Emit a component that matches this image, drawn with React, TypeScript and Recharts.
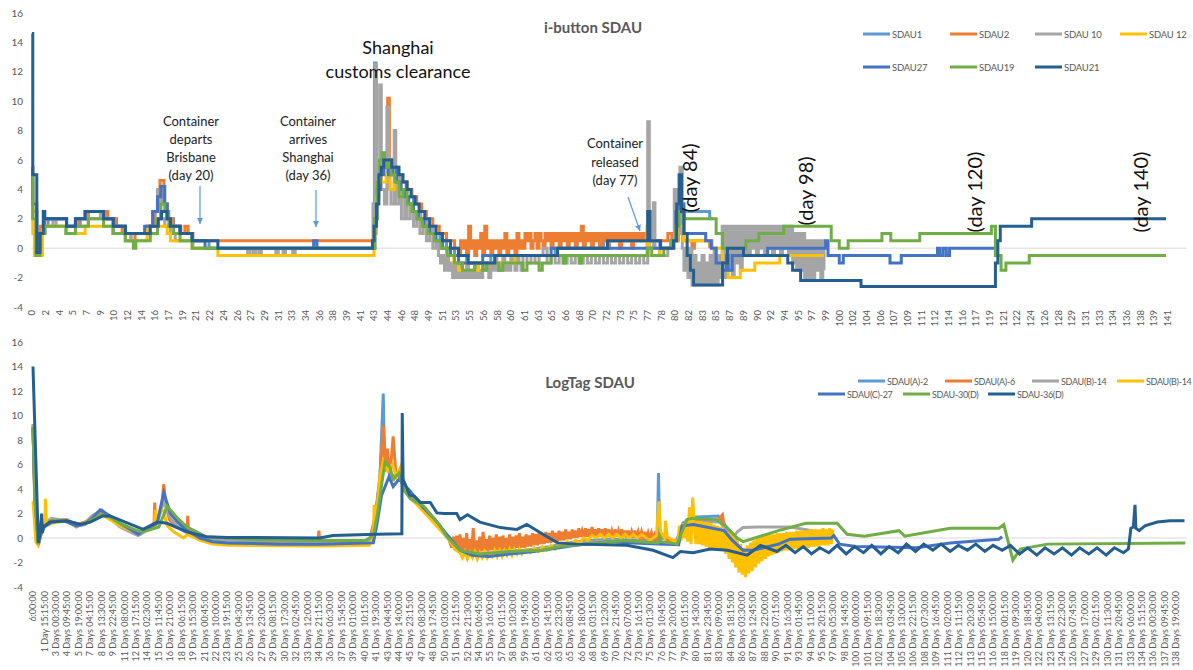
import React from 'react';
import { LineChart, Line, XAxis, YAxis, ReferenceLine } from 'recharts';

type Pt = [number, number];

// ---------------- TOP CHART (i-button SDAU) : [day, value] ----------------
const TOP_SDAU1: Pt[] = [[0,5.0],[0.1,2.5],[0.6,0],[1.0,1.0],[1.6,1.5],[2.0,2.0],[4.3,1.5],[6.0,2.0],[7.0,2.5],[9.4,2.0],[10.5,1.5],[11.6,1.0],[14.3,1.5],[15.3,2.5],[15.8,4.0],[16.3,3.0],[16.8,2.0],[17.6,1.5],[18.4,1.0],[19.9,0.5],[22.0,0],[42.2,0],[42.4,3.0],[42.55,12.6],[42.75,4.0],[43.2,5.5],[43.6,6.0],[44.2,5.5],[45.0,5.0],[45.8,4.5],[46.5,3.5],[47.4,2.5],[48.3,2.0],[49.0,1.5],[49.8,1.0],[50.7,0.5],[51.5,0],[52.5,-0.5],[54.0,-1.0],[57.0,-0.5],[65.0,0],[71.0,0.5],[76.5,0.5],[78.0,0],[79.5,0.5],[80.3,3.0],[80.9,2.5],[84.2,2.0],[84.6,2.0]];

const TOP_SDAU2: Pt[] = [[0,4.5],[0.1,2.0],[0.5,0],[1.0,1.5],[1.6,2.0],[4.3,1.5],[5.8,2.0],[7.0,2.5],[9.4,2.0],[10.4,1.5],[11.2,1.0],[12.3,0.5],[12.8,1.0],[14.6,1.5],[15.2,2.5],[15.6,4.0],[15.9,4.6],[16.4,3.0],[16.8,2.0],[17.5,1.5],[18.5,1.0],[19.0,1.5],[19.4,1.0],[20.0,0.5],[42.3,0.5],[42.5,2.0],[42.8,5.0],[43.2,6.0],[43.6,5.5],[44.2,10.2],[44.4,6.0],[45.0,5.5],[45.5,5.0],[46.0,4.5],[46.6,4.0],[47.2,3.5],[47.8,3.0],[48.4,2.5],[49.0,2.0],[49.8,1.5],[50.6,1.0],[51.5,0.5],[52.5,0],
[53.0,-0.5],[53.25,0.5],[53.5,0],[53.75,0.5],[54.0,-0.5],[54.25,1.5],[54.5,0],[54.75,0.5],[55.0,-0.5],[55.25,0.5],[55.5,0],[55.75,1.0],[56.0,-0.5],[56.25,1.5],[56.5,0],[56.75,0.5],[57.0,-0.5],[57.25,0.5],[57.5,0],[57.75,0.5],[58.0,-0.5],[58.25,0.5],[58.5,0],[58.75,1.0],[59.0,-0.5],[59.25,0.5],[59.5,0],[59.75,0.5],[60.0,-0.5],[60.25,1.0],[60.5,0],[60.75,0.5],
[61.0,0],[61.25,1.0],[61.5,0.5],[61.75,1.0],[62.0,0],[62.25,0.5],[62.5,1.0],[62.75,0],[63.0,1.0],[63.25,0.5],[63.5,0],[63.75,1.0],[64.0,0.5],[64.25,1.0],[64.5,0],[64.75,1.0],[65.0,0.5],[65.25,1.0],[65.5,0],[65.75,1.0],[66.0,0.5],[66.25,1.0],[66.5,0],[66.75,1.0],[67.0,0.5],[67.25,1.0],[67.5,0],[67.75,1.0],[68.0,0.5],[68.25,1.5],[68.5,0],[68.75,1.0],[69.0,0.5],[69.25,1.0],[69.5,0],[69.75,1.0],[70.0,0.5],[70.25,1.0],[70.5,0],[70.75,1.0],[71.0,0.5],[71.25,1.0],[71.5,0],[71.75,1.0],[72.0,0.5],[72.25,1.0],[72.5,0.5],[72.75,1.0],[73.0,0],[73.25,1.0],[73.5,0.5],[73.75,1.0],[74.0,0.5],[74.25,1.0],[74.5,0],[74.75,1.0],[75.0,0.5],[75.25,1.0],[75.5,0.5],[75.75,1.0],[76.0,0.5],[76.25,1.0],[76.5,0.5],
[78.0,0.5],[79.0,1.0],[79.5,0.5],[80.0,1.5],[80.4,2.0],[80.9,0.5],[82.0,0],[82.3,0.5],[84.2,0]];

const TOP_SDAU10: Pt[] = [[0,5.5],[0.1,2.0],[0.5,-0.5],[1.0,1.0],[1.6,1.5],[2.6,2.0],[3.0,1.5],[4.3,1.0],[5.4,1.5],[7.0,2.0],[8.5,2.5],[9.0,2.0],[10.1,1.0],[11.6,0.5],[12.3,1.0],[14.3,1.5],[15.0,2.5],[15.6,4.0],[16.0,2.0],[16.5,1.5],[17.2,1.0],[17.8,0.5],[20.0,0],[26.8,-0.5],[27.1,0],[27.5,-0.5],[27.8,0],[28.2,-0.5],[28.5,0],[30.3,-0.5],[30.6,0],[31.2,-0.5],[31.5,0],[32.4,-0.5],[32.7,0],[42.2,0],[42.4,3.0],[42.6,12.5],[42.8,4.0],[43.2,11.1],[43.4,4.0],[43.8,3.0],[44.1,9.6],[44.3,4.0],[44.6,3.0],[45.0,8.0],[45.2,3.0],[45.6,5.0],[45.9,2.0],[46.3,4.0],[46.6,2.0],[47.0,3.0],[47.4,1.5],[47.8,2.5],[48.2,1.0],[48.6,2.0],[49.0,0.5],[49.4,1.5],[49.8,0],[50.2,0.5],
[50.5,-0.5],[50.75,-1.0],[51.0,-0.5],[51.25,-1.5],[51.5,-0.5],[51.75,-1.5],[52.0,-1.0],[52.25,-2.0],[52.5,-1.0],[52.75,-2.0],[53.0,-1.0],[53.25,-2.0],[53.5,-1.5],[53.75,-2.0],[54.0,-1.0],[54.25,-2.0],[54.5,-1.5],[54.75,-2.0],[55.0,-1.0],[55.25,-2.0],[55.5,-1.5],[55.75,-2.0],[56.0,-1.0],[56.25,-1.5],[56.5,-1.0],[56.75,-2.0],[57.0,-1.0],[57.25,-1.5],[57.5,-0.5],[57.75,-1.5],[58.0,-1.0],[58.25,-1.5],[58.5,-0.5],[58.75,-1.5],[59.0,-1.0],[59.25,-1.5],[59.5,-0.5],[59.75,-1.0],[60.0,-1.5],[60.25,-0.5],[60.5,-1.0],[60.75,-1.5],[61.0,-0.5],[61.5,-1.0],[62.0,-0.5],[62.5,-1.0],[63.0,-0.5],[63.5,0],[64.0,-1.0],[64.5,-0.5],[65.0,-1.0],[65.5,-0.5],[66.0,-1.0],[66.5,-0.5],[67.0,-1.0],[67.5,-0.5],[68.0,-1.0],[68.5,-0.5],[69.0,-1.0],[69.5,-0.5],[70.0,-1.0],[70.5,-0.5],[71.0,-1.0],[71.5,-0.5],[72.0,-1.0],[72.5,-0.5],[73.0,-1.0],[73.5,-0.5],[74.0,-1.0],[74.5,-0.5],[75.0,-1.0],[75.5,-0.5],[76.0,-1.0],
[76.5,8.6],[76.7,0],[77.2,3.1],[77.4,0],[78.0,-0.5],[79.0,0],[79.8,4.0],[80.1,1.0],[80.5,5.5],[80.8,0],
[81.0,-1.5],[81.25,0],[81.5,-2.0],[81.75,0],[82.0,-2.5],[82.25,-0.5],[82.5,-2.5],[82.75,-1.0],[83.0,-2.5],[83.25,-0.5],[83.5,-2.5],[83.75,-1.0],[84.0,-2.5],[84.25,-0.5],[84.5,-2.5],[84.75,0],[85.0,-2.5],[85.25,-0.5],[85.5,-2.0],
[85.75,1.5],[86.0,-2.0],[86.25,1.5],[86.5,-1.5],[86.75,1.5],[87.0,-2.0],[87.25,1.5],[87.5,-1.0],[87.75,1.5],[88.0,-1.5],[88.25,1.5],[88.5,-0.5],[88.75,1.5],[89.0,-0.5],[89.25,1.5],[89.5,0],[89.75,1.5],[90.0,-0.5],[90.25,1.5],[90.5,0],[90.75,1.5],[91.0,-0.5],[91.25,1.5],[91.5,0],[91.75,1.5],[92.0,-0.5],[92.25,1.5],[92.5,0],[92.75,1.5],[93.0,-0.5],[93.25,1.5],[93.5,0],[93.75,1.5],[94.0,-0.5],[94.25,1.5],[94.5,-1.0],[94.75,1.0],[95.0,-1.5],[95.25,1.0],[95.5,-1.5],[95.75,1.0],[96.0,-2.0],[96.25,0.5],[96.5,-2.0],[96.75,0.5],[97.0,-2.0],[97.25,0.5],[97.5,-1.5],[97.75,0.5],[98.0,-2.0],[98.25,0.5],[98.4,-1.5]];

const TOP_SDAU12: Pt[] = [[0,3.5],[0.1,1.0],[0.3,-0.5],[1.0,-0.5],[1.3,1.0],[1.6,1.5],[4.3,1.0],[6.6,1.5],[9.0,1.5],[10.0,1.0],[11.6,0.5],[14.3,1.5],[16.8,1.0],[17.2,0.5],[19.9,0],[23.1,-0.5],[42.2,-0.5],[42.5,1.0],[42.8,3.5],[43.1,4.5],[44.0,5.0],[44.5,4.0],[45.0,4.5],[45.5,4.0],[46.0,3.5],[46.6,3.0],[47.2,2.5],[47.8,2.0],[48.5,1.5],[49.2,1.0],[50.0,0.5],[50.8,0],[51.5,-0.5],[52.4,-1.0],[53.0,-1.5],[53.5,-1.0],[55.0,-1.5],[55.5,-1.0],[60.0,-0.5],[76.4,1.5],[76.6,-0.5],[78.0,0],[79.5,0.5],[80.2,1.5],[80.9,0.5],[84.5,0],[85.8,-1.0],[86.5,-2.0],[88.0,-1.5],[89.8,-1.0],[92.9,-0.5],[98.4,-0.5]];

const TOP_SDAU27: Pt[] = [[0,5.5],[0.1,3.0],[0.6,0],[1.0,1.0],[1.5,2.0],[4.3,1.5],[5.4,2.0],[6.6,2.5],[8.9,2.0],[10.1,1.5],[11.6,1.0],[14.0,1.5],[15.0,2.5],[15.6,3.5],[16.0,4.2],[16.5,3.0],[16.8,2.0],[17.2,1.5],[18.4,1.0],[19.9,0.5],[21.5,0],[35.0,0.5],[35.4,0],[42.3,0],[42.6,2.0],[42.9,4.0],[43.3,5.0],[43.7,5.5],[44.3,5.0],[44.8,5.5],[45.3,4.5],[45.8,4.0],[46.3,3.5],[46.8,3.0],[47.4,2.5],[48.0,2.0],[48.7,1.5],[49.4,1.0],[50.2,0.5],[51.0,0],[52.0,-0.5],[53.0,-1.0],[56.0,-0.5],[64.5,0],[79.4,0.5],[80.0,2.5],[80.5,3.0],[81.0,1.0],[83.7,0.5],[84.4,0],[85.0,-1.0],[85.8,-1.5],[86.3,-0.5],[86.5,-1.5],[87.0,-0.5],[91.4,0],[98.6,0.5],[98.9,-0.5],[100.3,-1.0],[100.8,-0.5],[106.6,-1.0],[108.0,-0.5],[112.5,0],[112.8,-0.5],[113.2,0],[113.6,-0.5],[114.0,0],[114.5,0],[119.7,0]];

const TOP_SDAU19: Pt[] = [[0,5.0],[0.1,2.0],[0.5,-0.5],[1.0,1.0],[1.6,1.5],[4.2,1.0],[5.4,1.5],[7.0,2.0],[8.9,1.5],[10.1,1.0],[11.6,0.5],[12.6,0],[12.9,0.5],[14.7,1.0],[15.6,2.0],[16.0,3.0],[16.5,2.5],[17.0,1.5],[17.6,1.0],[18.4,0.5],[19.9,0],[42.3,0],[42.6,2.0],[42.9,4.5],[43.2,6.0],[43.5,6.5],[43.8,5.5],[44.2,6.0],[44.6,5.0],[45.1,4.5],[45.6,3.5],[46.1,4.0],[46.6,3.0],[47.2,2.5],[47.8,2.0],[48.5,1.5],[49.2,1.0],[50.0,0.5],[50.8,0],[51.6,-0.5],[52.5,-1.0],[53.5,-1.5],[55.0,-1.0],[56.0,-1.5],[56.5,-1.0],[58.0,-1.5],[58.5,-1.0],[61.0,-1.5],[61.5,-1.0],[63.0,-1.5],[63.4,-1.0],[64.5,-0.5],[66.0,-1.0],[66.3,-0.5],[68.0,-1.0],[68.3,-0.5],[75.6,-0.5],[76.5,0],[77.0,-0.5],[78.5,0],[79.4,0.5],[80.0,1.5],[80.4,2.5],[81.0,2.0],[85.0,1.0],[85.8,0],[88.7,0.5],[90.3,1.0],[93.4,1.5],[99.3,0.5],[100.3,0],[101.4,0.5],[105.6,1.0],[106.7,0.5],[110.3,1.0],[119.2,1.5],[119.7,-0.5],[120.4,-1.5],[121.0,-1.0],[123.9,-0.5],[140.9,-0.5]];

const TOP_SDAU21: Pt[] = [[0,14.6],[0.1,5.0],[0.6,-0.3],[1.0,1.0],[1.4,2.5],[1.6,2.0],[4.3,1.5],[5.4,2.0],[6.6,2.5],[8.9,2.0],[10.1,1.5],[11.6,1.0],[14.7,1.5],[15.7,2.0],[16.1,2.5],[16.8,2.0],[17.2,1.5],[18.4,1.0],[19.9,0.5],[23.1,0],[42.3,0.5],[42.5,1.5],[42.8,3.0],[43.1,5.0],[43.4,5.5],[43.7,6.0],[44.7,5.5],[45.6,5.0],[46.1,4.5],[46.6,4.0],[47.1,3.5],[47.6,3.0],[48.1,2.5],[48.8,2.0],[49.4,1.5],[50.2,1.0],[51.0,0.5],[52.0,0],[53.0,-0.5],[54.2,-1.0],[57.5,-0.5],[65.3,0],[71.5,0.5],[76.5,2.5],[76.8,0.5],[78.1,0],[79.7,0.5],[80.1,3.0],[80.4,5.0],[80.7,2.5],[81.0,1.0],[81.4,-0.5],[81.8,-1.5],[82.2,-2.5],[85.8,-1.0],[86.4,0],[88.4,-0.5],[93.9,-1.0],[94.5,-1.5],[95.5,-2.2],[103.0,-2.6],[119.7,-1.0],[120.0,0.5],[120.3,1.5],[123.3,1.5],[124.2,2.0],[140.9,2.0]];

// ---------------- BOTTOM CHART (LogTag SDAU) : [day, value] ----------------
const BOT_A2: Pt[] = [[0.25,9.2],[0.5,2.5],[0.9,-0.5],[1.3,0.5],[1.7,1.0],[2.5,1.5],[4.3,1.4],[5.5,1.0],[6.5,1.2],[7.4,1.7],[8.6,2.1],[9.6,1.7],[10.8,1.1],[12.5,0.5],[13.2,0.3],[14.2,0.7],[15.3,1.4],[16.1,3.2],[16.9,1.5],[18.0,0.8],[19.0,0.4],[20.5,0],[22.0,-0.2],[24.0,-0.35],[30.0,-0.4],[35.0,-0.45],[41.0,-0.4],[41.7,1.5],[42.3,5.0],[42.7,11.8],[42.85,5.5],[43.2,5.8],[43.8,5.0],[44.5,5.3],[45.2,4.2],[46.0,3.3],[47.5,2.3],[49.0,1.3],[50.5,0.2],[52.0,-1.0],[54.0,-1.4],[57.0,-1.2],[60.0,-1.0],[63.0,-0.7],[66.0,-0.3],[70.0,-0.1],[74.0,-0.2],[75.9,-0.2],[76.05,5.3],[76.2,0.6],[76.5,0],[78.5,-0.3],[79.0,1.2],[80.2,1.7],[83.3,1.8],[84.2,1.0],[85.5,-0.3]];

const BOT_A6: Pt[] = [[0.25,9.0],[0.5,2.0],[0.9,-0.5],[1.3,0.5],[1.7,1.1],[2.5,1.4],[4.3,1.5],[5.5,1.1],[6.5,1.3],[7.4,1.6],[8.6,2.0],[9.6,1.7],[10.8,1.1],[12.5,0.5],[13.2,0.4],[14.2,0.7],[14.9,0.8],[15.0,2.9],[15.1,1.0],[15.6,2.0],[15.9,3.0],[16.1,4.4],[16.4,2.5],[16.8,1.5],[17.5,1.0],[18.5,0.7],[18.9,0.5],[19.0,1.8],[19.1,0.6],[20.0,0.3],[22.0,-0.1],[24.0,-0.3],[34.8,-0.35],[34.9,0.6],[35.0,-0.3],[41.0,-0.3],[41.8,2.0],[42.3,5.0],[42.7,9.2],[43.0,6.0],[43.2,7.3],[43.5,5.0],[43.9,8.3],[44.2,5.5],[44.6,5.0],[45.0,4.5],[45.5,4.0],[46.5,3.0],[47.5,2.3],[48.5,1.6],[49.5,1.0],[50.0,0.4],[50.6,0],
[51.0,-0.8],[51.2,0.1],[51.4,-1.0],[51.6,0.2],[51.8,-1.1],[52.0,0.3],[52.2,-1.1],[52.4,0.0],[52.6,-1.2],[52.8,0.4],[53.0,-1.2],[53.2,-0.1],[53.4,-1.2],[53.6,0.8],[53.8,-1.1],[54.0,-0.2],[54.2,-1.2],[54.4,0.1],[54.6,-1.1],[54.8,0.5],[55.0,-1.0],[55.2,-0.1],[55.4,-1.1],[55.6,0.2],[55.8,-1.0],[56.0,0.0],[56.2,-1.1],[56.4,0.3],[56.6,-1.0],[56.8,0.1],[57.0,-1.0],[57.2,0.2],[57.4,-0.9],[57.6,0.0],[57.8,-1.0],[58.0,0.3],[58.2,-0.9],[58.4,0.1],[58.6,-0.9],[58.8,0.2],[59.0,-0.8],[59.2,0.4],[59.4,-0.8],[59.6,0.1],[59.8,-0.8],[60.0,0.3],[60.2,-0.7],[60.4,0.2],[60.6,-0.7],[60.8,0.4],[61.0,-0.6],[61.2,0.3],[61.4,-0.6],[61.6,0.5],[61.8,-0.5],[62.0,0.3],[62.2,-0.5],[62.4,0.5],[62.6,-0.4],[62.8,0.4],[63.0,-0.4],[63.2,0.6],[63.4,-0.3],[63.6,0.4],[63.8,-0.3],[64.0,0.6],[64.2,-0.2],[64.4,0.5],[64.6,-0.2],[64.8,0.7],[65.0,-0.1],[65.2,0.5],[65.4,-0.1],[65.6,0.7],[65.8,0.0],[66.0,0.6],[66.2,0.0],[66.4,0.8],[66.6,0.1],[66.8,0.6],[67.0,0.1],[67.2,0.8],[67.4,0.1],[67.6,0.7],[67.8,0.1],[68.0,0.9],[68.2,0.1],[68.4,0.7],[68.6,0.1],[68.8,0.8],[69.0,0.1],[69.2,0.7],[69.4,0.1],[69.6,0.8],[69.8,0.1],[70.0,0.7],[70.2,0.1],[70.4,0.6],[70.6,0.1],[70.8,0.7],[71.0,0.1],[71.2,0.6],[71.4,0.1],[71.6,0.7],[71.8,0.1],[72.0,0.6],[72.2,0.0],[72.4,0.6],[72.6,0.0],[72.8,0.5],[73.0,0.0],[73.2,0.6],[73.4,0.0],[73.6,0.5],[73.8,0.0],[74.0,0.5],[74.2,0.0],[74.4,0.5],[74.6,-0.1],[74.8,0.4],[75.0,-0.1],[75.2,0.4],[75.4,-0.1],[75.6,0.3],[75.8,0.0],
[76.0,0.3],[77.5,-0.3],[78.5,-0.4],[79.0,1.0],[80.0,1.5],[83.3,1.5],[83.8,1.9],[84.0,1.0],[84.5,0.5]];

const BOT_B14_GRAY: Pt[] = [[0.25,9.3],[0.5,2.5],[0.9,-0.5],[1.3,0.5],[1.7,1.2],[2.5,1.6],[4.3,1.4],[5.5,0.9],[6.5,1.2],[7.4,1.8],[8.6,2.3],[9.6,1.6],[10.8,0.9],[12.3,0.4],[13.0,0.2],[14.2,0.7],[15.3,1.2],[16.1,3.0],[16.9,1.6],[18.0,0.9],[19.0,0.5],[20.5,0.1],[22.0,-0.1],[24.0,-0.2],[35.0,-0.3],[41.0,-0.3],[41.7,1.5],[42.2,4.0],[42.8,6.0],[43.3,5.5],[44.0,4.8],[44.5,5.3],[45.3,4.0],[46.0,3.2],[47.5,2.4],[49.0,1.3],[50.5,0.1],[52.0,-1.0],[54.0,-1.3],[58.0,-1.1],[62.0,-0.9],[66.0,-0.4],[70.0,-0.2],[74.0,-0.3],[78.0,-0.5],[79.0,1.0],[80.2,1.3],[83.5,1.3],[85.0,0],[85.6,0.5],[86.3,0.85],[88.0,0.9],[92.0,0.9],[94.7,0.6]];

const BOT_B14_YELLOW: Pt[] = [[0.25,3.0],[0.6,-0.3],[0.9,-0.6],[1.3,0.5],[1.7,1.0],[1.75,3.2],[1.9,1.0],[2.5,1.2],[4.3,1.4],[5.5,1.0],[6.5,1.2],[7.4,1.5],[8.6,1.9],[9.6,1.5],[10.8,1.0],[12.5,0.5],[14.2,0.6],[14.9,0.9],[15.1,2.3],[15.3,1.3],[15.7,2.3],[16.1,2.2],[16.5,1.0],[17.3,0.5],[18.5,0],[19.0,0.3],[20.5,-0.2],[22.0,-0.5],[24.0,-0.6],[35.0,-0.65],[41.0,-0.6],[41.5,0],[41.6,2.7],[41.8,1.0],[42.3,5.0],[42.7,6.3],[43.2,5.5],[43.8,6.0],[44.3,5.0],[44.8,5.8],[45.3,4.0],[46.0,3.3],[47.5,2.2],[49.0,1.1],[50.5,0],[51.5,-1.0],[52.0,-1.2],[52.3,-1.6],[52.6,-1.1],[52.9,-1.7],[53.2,-1.2],[53.5,-1.6],[53.8,-1.1],[54.1,-1.7],[54.4,-1.2],[54.7,-1.6],[55.0,-1.1],[55.3,-1.6],[55.6,-1.2],[55.9,-1.5],[56.2,-1.0],[56.5,-1.5],[56.8,-1.0],[57.1,-1.5],[57.4,-1.0],[57.7,-1.4],[58.0,-0.9],[58.3,-1.4],[58.6,-0.9],[58.9,-1.3],[59.2,-0.9],[59.5,-1.3],[60.0,-0.9],[60.5,-1.2],[61.0,-0.8],[61.5,-1.1],[62.0,-0.7],[62.5,-1.0],[63.0,-0.6],[63.5,-0.9],[64.0,-0.5],[64.5,-0.7],[65.0,-0.3],[65.5,-0.5],[66.0,-0.2],[66.5,-0.4],[67.0,0.0],[67.5,-0.2],[68.0,0.2],[68.5,0.0],[69.0,0.3],[69.5,0.0],[70.0,0.3],[70.5,0.0],[71.0,0.3],[71.5,0.0],[72.0,0.3],[72.5,0.0],[73.0,0.3],[73.5,0.0],[74.0,0.3],[75.0,-0.2],[75.8,0.2],[76.1,3.0],[76.3,0.5],[76.8,0],[76.9,1.4],[77.1,0.1],[78.3,-0.4],
[78.4,-0.4],[78.6,1.0],[78.8,-0.2],[79.0,1.2],[79.2,0.0],[79.4,1.5],[79.6,-0.3],[79.8,2.5],[80.0,-0.5],[80.2,3.3],[80.4,0.8],[80.6,-0.5],[80.8,1.4],[81.0,-0.5],[81.2,1.4],[81.4,-0.6],[81.6,1.3],[81.8,-0.7],[82.0,1.3],[82.2,-0.8],[82.4,1.2],[82.6,-0.8],[82.8,1.1],[83.0,-0.9],[83.2,1.0],[83.4,-0.9],[83.6,0.9],[83.8,-1.0],[84.0,0.6],[84.2,-1.3],[84.4,0.5],[84.6,-1.7],[84.8,0.4],[85.0,-2.0],[85.2,0.2],[85.4,-2.4],[85.6,-0.2],[85.8,-2.8],[86.0,-0.5],[86.2,-3.0],[86.4,-0.8],[86.6,-3.2],[86.8,-0.6],[87.0,-2.9],[87.2,-0.4],[87.4,-2.7],[87.6,-0.2],[87.8,-2.4],[88.0,0.0],[88.2,-2.1],[88.4,0.1],[88.6,-1.9],[88.8,0.2],[89.0,-1.7],[89.2,0.3],[89.4,-1.5],[89.6,0.3],[89.8,-1.4],[90.0,0.3],[90.2,-1.3],[90.4,0.4],[90.6,-1.2],[90.8,0.4],[91.0,-1.1],[91.2,0.4],[91.4,-1.0],[91.6,0.5],[91.8,-1.0],[92.0,0.5],[92.2,-0.9],[92.4,0.5],[92.6,-0.9],[92.8,0.6],[93.0,-0.9],[93.2,0.6],[93.4,-0.8],[93.6,0.6],[93.8,-0.8],[94.0,0.6],[94.2,-0.8],[94.4,0.7],[94.6,-0.7],[94.8,0.7],[95.0,-0.7],[95.2,0.7],[95.4,-0.7],[95.6,0.7],[95.8,-0.6],[96.0,0.8],[96.2,-0.6],[96.4,0.7],[96.6,-0.6],[96.8,0.8],[97.0,-0.5],[97.2,0.7]];

const BOT_C27: Pt[] = [[0.25,9.0],[0.5,3.0],[0.9,-0.5],[1.2,0.3],[1.6,0.9],[2.5,1.3],[4.0,1.4],[5.5,1.0],[6.5,1.1],[7.4,1.6],[8.4,2.3],[9.6,1.8],[10.8,1.2],[12.3,0.6],[13.0,0.3],[14.2,0.8],[15.3,1.2],[16.1,3.7],[16.9,2.0],[17.8,1.3],[18.9,0.6],[20.5,0],[22.0,-0.3],[23.8,-0.4],[30.0,-0.5],[35.0,-0.5],[41.5,-0.4],[41.9,1.0],[42.5,3.5],[43.4,5.0],[43.9,4.2],[44.6,4.8],[45.3,4.3],[46.0,3.8],[47.5,2.5],[49.0,1.5],[50.5,0.2],[52.0,-1.0],[53.5,-1.4],[55.5,-1.5],[58.0,-1.3],[61.0,-1.1],[64.0,-0.8],[66.0,-0.6],[70.0,-0.3],[73.0,-0.4],[76.0,-0.5],[78.5,-0.55],[78.9,1.0],[80.3,1.1],[84.0,0.6],[85.0,-0.2],[86.3,-1.0],[87.5,-1.0],[90.6,-0.5],[92.0,-0.1],[97.0,0],[97.3,0.2],[98.0,-0.5],[100.0,-0.7],[107.3,-0.8],[111.4,-0.4],[117.3,-0.1],[117.7,0.1]];

const BOT_30D: Pt[] = [[0.25,9.0],[0.5,3.0],[0.9,-0.5],[1.2,0.5],[1.6,1.0],[2.5,1.4],[4.3,1.4],[5.5,1.2],[6.5,1.1],[7.4,1.5],[8.6,1.9],[9.6,1.7],[10.8,1.2],[12.5,0.7],[13.4,0.5],[14.6,0.7],[15.5,0.9],[16.5,2.6],[17.8,1.6],[18.9,0.9],[20.1,0.5],[21.2,0.1],[23.6,0],[27.6,-0.15],[35.0,-0.2],[40.5,-0.2],[41.5,0.2],[42.0,2.0],[42.9,6.2],[43.5,5.8],[43.9,4.8],[44.6,5.3],[45.2,3.9],[46.0,3.2],[47.6,2.6],[49.6,1.0],[50.4,0.1],[52.0,-1.0],[54.4,-1.3],[58.0,-1.1],[62.0,-1.0],[64.0,-0.7],[68.0,-0.45],[72.0,-0.2],[73.8,-0.3],[76.0,-0.4],[76.2,0.1],[76.4,-0.3],[78.3,-0.5],[79.5,1.5],[80.1,1.6],[83.0,1.5],[84.2,0.95],[85.6,0],[86.3,-0.3],[90.6,0.6],[93.9,1.2],[97.7,1.2],[98.9,0.3],[101.0,0.15],[105.2,0.6],[105.9,0.15],[111.4,0.8],[117.3,0.8],[117.9,1.1],[119.0,-1.8],[119.9,-0.9],[123.2,-0.5],[139.9,-0.4]];

const BOT_36D: Pt[] = [[0.25,14.0],[0.9,-0.4],[1.1,0.3],[1.3,2.0],[1.4,0.4],[1.5,0.9],[2.3,1.3],[4.3,1.4],[6.0,1.1],[7.2,1.3],[8.7,1.8],[9.6,1.8],[13.6,0.7],[15.3,1.3],[16.5,1.2],[18.9,0.5],[21.3,0.1],[23.8,0.05],[35.0,0],[36.6,0.2],[41.9,0.3],[44.95,0.35],[45.0,10.2],[45.1,4.8],[45.9,3.5],[46.5,3.4],[47.2,2.9],[48.4,2.9],[49.2,2.05],[50.0,2.0],[51.6,2.0],[52.0,1.5],[52.9,1.9],[54.4,1.3],[56.9,0.85],[58.9,0.7],[60.1,1.1],[61.7,0.45],[63.8,-0.4],[66.2,-0.5],[72.2,-0.6],[75.4,-1.0],[77.8,-1.6],[78.7,-1.1],[80.25,-1.2],[82.3,-0.9],[84.4,-1.0],[86.8,-1.4],[88.4,-0.6],[90.4,-1.1],[91.5,-0.6],[92.6,-1.2],[93.6,-0.7],[94.6,-1.3],[95.6,-0.8],[96.7,-1.2],[97.7,-0.6],[98.8,-1.3],[99.8,-0.7],[100.9,-1.2],[101.9,-0.6],[103.0,-1.3],[104.0,-0.7],[105.1,-1.2],[106.1,-0.5],[107.2,-1.1],[108.2,-0.5],[109.3,-1.0],[110.3,-0.5],[111.4,-1.1],[112.4,-0.6],[113.5,-1.0],[114.5,-0.5],[115.6,-1.1],[116.6,-0.6],[117.7,-1.0],[118.7,-0.6],[119.8,-1.3],[120.8,-0.8],[121.9,-1.4],[122.9,-0.8],[124.0,-1.3],[125.0,-0.8],[126.1,-1.4],[127.1,-0.8],[128.2,-1.3],[129.2,-0.8],[130.3,-1.4],[131.3,-0.8],[132.4,-1.2],[133.0,-0.9],[133.3,0.8],[133.6,0.9],[133.8,2.7],[133.9,0.8],[134.3,0.6],[135.0,1.0],[136.5,1.3],[138.0,1.4],[139.8,1.4]];

// ---------------- AXIS TICK LABELS ----------------
const Y_TICKS = [-4, -2, 0, 2, 4, 6, 8, 10, 12, 14, 16];

const TOP_TICK_LABELS = [0,2,4,5,7,9,10,12,14,16,17,19,21,22,24,26,27,29,31,33,34,36,38,39,41,43,44,46,48,49,51,53,55,56,58,60,61,63,65,66,68,70,72,73,75,77,78,80,82,83,85,87,89,90,92,94,95,97,99,100,102,104,106,107,109,111,112,114,116,117,119,121,122,124,126,128,129,131,133,134,136,138,139,141];

const BOTTOM_TICK_LABELS = ["6:00:00","1 Day 15:15:00","3 Days 00:30:00","4 Days 09:45:00","5 Days 19:00:00","7 Days 04:15:00","8 Days 13:30:00","9 Days 22:45:00","11 Days 08:00:00","12 Days 17:15:00","14 Days 02:30:00","15 Days 11:45:00","16 Days 21:00:00","18 Days 06:15:00","19 Days 15:30:00","21 Days 00:45:00","22 Days 10:00:00","23 Days 19:15:00","25 Days 04:30:00","26 Days 13:45:00","27 Days 23:00:00","29 Days 08:15:00","30 Days 17:30:00","32 Days 02:45:00","33 Days 12:00:00","34 Days 21:15:00","36 Days 06:30:00","37 Days 15:45:00","39 Days 01:00:00","40 Days 10:15:00","41 Days 19:30:00","43 Days 04:45:00","44 Days 14:00:00","45 Days 23:15:00","47 Days 08:30:00","48 Days 17:45:00","50 Days 03:00:00","51 Days 12:15:00","52 Days 21:30:00","54 Days 06:45:00","55 Days 16:00:00","57 Days 01:15:00","58 Days 10:30:00","59 Days 19:45:00","61 Days 05:00:00","62 Days 14:15:00","63 Days 23:30:00","65 Days 08:45:00","66 Days 18:00:00","68 Days 03:15:00","69 Days 12:30:00","70 Days 21:45:00","72 Days 07:00:00","73 Days 16:15:00","75 Days 01:30:00","76 Days 10:45:00","77 Days 20:00:00","79 Days 05:15:00","80 Days 14:30:00","81 Days 23:45:00","83 Days 09:00:00","84 Days 18:15:00","86 Days 03:30:00","87 Days 12:45:00","88 Days 22:00:00","90 Days 07:15:00","91 Days 16:30:00","93 Days 01:45:00","94 Days 11:00:00","95 Days 20:15:00","97 Days 05:30:00","98 Days 14:45:00","100 Days 00:00:00","101 Days 09:15:00","102 Days 18:30:00","104 Days 03:45:00","105 Days 13:00:00","106 Days 22:15:00","108 Days 07:30:00","109 Days 16:45:00","111 Days 02:00:00","112 Days 11:15:00","113 Days 20:30:00","115 Days 05:45:00","116 Days 15:00:00","118 Days 00:15:00","119 Days 09:30:00","120 Days 18:45:00","122 Days 04:00:00","123 Days 13:15:00","124 Days 22:30:00","126 Days 07:45:00","127 Days 17:00:00","129 Days 02:15:00","130 Days 11:30:00","131 Days 20:45:00","133 Days 06:00:00","134 Days 15:15:00","136 Days 00:30:00","137 Days 09:45:00","138 Days 19:00:00"];

// tick positions on the day axes (label i sits at i * step)
const TOP_TICK_STEP = 1.7;
const BOTTOM_TICK_START = 0.25;
const BOTTOM_TICK_STEP = 1.385417;
const TOP_TICK_POS = TOP_TICK_LABELS.map((_, i) => i * TOP_TICK_STEP);
const BOTTOM_TICK_POS = BOTTOM_TICK_LABELS.map((_, i) => BOTTOM_TICK_START + i * BOTTOM_TICK_STEP);

// ---------------- SERIES ----------------
const C_LBLUE = '#5B9BD5';
const C_ORANGE = '#ED7D31';
const C_GRAY = '#A5A5A5';
const C_YELLOW = '#FFC000';
const C_BLUE = '#4472C4';
const C_GREEN = '#70AD47';
const C_DBLUE = '#255E91';

const TOP_SERIES = [
  { name: 'SDAU1', color: C_LBLUE, pts: TOP_SDAU1 },
  { name: 'SDAU2', color: C_ORANGE, pts: TOP_SDAU2 },
  { name: 'SDAU 10', color: C_GRAY, pts: TOP_SDAU10 },
  { name: 'SDAU 12', color: C_YELLOW, pts: TOP_SDAU12 },
  { name: 'SDAU27', color: C_BLUE, pts: TOP_SDAU27 },
  { name: 'SDAU19', color: C_GREEN, pts: TOP_SDAU19 },
  { name: 'SDAU21', color: C_DBLUE, pts: TOP_SDAU21 },
];

const BOTTOM_SERIES = [
  { name: 'SDAU(A)-2', color: C_LBLUE, pts: BOT_A2 },
  { name: 'SDAU(A)-6', color: C_ORANGE, pts: BOT_A6 },
  { name: 'SDAU(B)-14', color: C_GRAY, pts: BOT_B14_GRAY },
  { name: 'SDAU(B)-14', color: C_YELLOW, pts: BOT_B14_YELLOW },
  { name: 'SDAU(C)-27', color: C_BLUE, pts: BOT_C27 },
  { name: 'SDAU-30(D)', color: C_GREEN, pts: BOT_30D },
  { name: 'SDAU-36(D)', color: C_DBLUE, pts: BOT_36D },
];

// legend item placement (style only)
const TOP_LEGEND_POS: [number, number][] = [[863,34],[950,34],[1035,34],[1120,34],[863,67],[950,67],[1035,67]];
const BOTTOM_LEGEND_POS: [number, number][] = [[858,381],[945,381],[1032,381],[1117,381],[818,394],[903,394],[988,394]];

const FONT = 'Lato, "Open Sans", "Noto Sans", sans-serif';
const TXT = '#595959';

const toData = (pts: Pt[]) => pts.map(([x, y]) => ({ x, y }));

function nearestIndex(positions: number[], v: number) {
  let idx = 0;
  let best = Infinity;
  positions.forEach((p, i) => {
    const d = Math.abs(p - v);
    if (d < best) { best = d; idx = i; }
  });
  return idx;
}

const makeTick = (labels: (string | number)[], positions: number[], fontSize: number) => (props: any) => {
  const { x, y, payload } = props;
  const idx = nearestIndex(positions, payload.value);
  return (
    <text
      transform={`translate(${x},${y}) rotate(-90)`}
      textAnchor="end"
      dy="0.35em"
      fontSize={fontSize}
      fill={TXT}
      fontFamily={FONT}
    >
      {labels[idx]}
    </text>
  );
};

const TopTick = makeTick(TOP_TICK_LABELS, TOP_TICK_POS, 9.5);
const BottomTick = makeTick(BOTTOM_TICK_LABELS, BOTTOM_TICK_POS, 9);

const ANN_SMALL = [
  { x: 191, ys: [121, 139, 157, 175], lines: ['Container', 'departs', 'Brisbane', '(day 20)'] },
  { x: 308, ys: [121, 139, 157, 175], lines: ['Container', 'arrives', 'Shanghai', '(day 36)'] },
  { x: 615, ys: [143, 162, 180], lines: ['Container', 'released', '(day 77)'] },
];
const ANN_ROT = [
  { x: 689, y: 178, t: '(day 84)' },
  { x: 805, y: 191, t: '(day 98)' },
  { x: 974, y: 192, t: '(day 120)' },
  { x: 1140, y: 192, t: '(day 140)' },
];
const ARROWS = [
  { x1: 200, y1: 186, x2: 200, y2: 224 },
  { x1: 316, y1: 190, x2: 316, y2: 227 },
  { x1: 628, y1: 197, x2: 640, y2: 231 },
];

export default function App() {
  return (
    <div style={{ position: 'relative', width: 1193, height: 670, background: '#fff', fontFamily: FONT, overflow: 'hidden' }}>
      <style>{'body{margin:0;}'}</style>
      <div style={{ position: 'absolute', left: 0, top: 0 }}>
        <LineChart width={1193} height={335} margin={{ top: 13, right: 6, bottom: 2, left: 0 }}>
          <XAxis type="number" dataKey="x" domain={[-0.12, 143.5]} ticks={TOP_TICK_POS} interval={0}
            tick={TopTick} tickSize={0} tickMargin={3} axisLine={false} tickLine={false} height={26} allowDataOverflow />
          <YAxis type="number" domain={[-4, 16]} ticks={Y_TICKS} interval={0} width={31} axisLine={false} tickLine={false}
            tickSize={0} tickMargin={8} tick={{ fontSize: 10, fill: TXT, fontFamily: FONT }} allowDataOverflow />
          <ReferenceLine y={0} stroke="#D9D9D9" strokeWidth={1} />
          {TOP_SERIES.map((s) => (
            <Line key={s.name} name={s.name} data={toData(s.pts)} dataKey="y" type="stepAfter" stroke={s.color}
              strokeWidth={3} dot={false} activeDot={false} isAnimationActive={false} />
          ))}
        </LineChart>
      </div>
      <div style={{ position: 'absolute', left: 0, top: 335 }}>
        <LineChart width={1193} height={335} margin={{ top: 7, right: 6, bottom: 3, left: 0 }}>
          <XAxis type="number" dataKey="x" domain={[0.01, 140.1]} ticks={BOTTOM_TICK_POS} interval={0}
            tick={BottomTick} tickSize={0} tickMargin={4} axisLine={false} tickLine={false} height={80} allowDataOverflow />
          <YAxis type="number" domain={[-4, 16]} ticks={Y_TICKS} interval={0} width={31} axisLine={false} tickLine={false}
            tickSize={0} tickMargin={8} tick={{ fontSize: 10, fill: TXT, fontFamily: FONT }} allowDataOverflow />
          <ReferenceLine y={0} stroke="#D9D9D9" strokeWidth={1} />
          {BOTTOM_SERIES.map((s, i) => (
            <Line key={s.name + i} name={s.name} data={toData(s.pts)} dataKey="y" type="linear" stroke={s.color}
              strokeWidth={3} dot={false} activeDot={false} isAnimationActive={false} />
          ))}
        </LineChart>
      </div>
      <svg width={1193} height={670} style={{ position: 'absolute', left: 0, top: 0, pointerEvents: 'none' }}>
        <defs>
          <marker id="arr" markerWidth="8" markerHeight="8" refX="6" refY="3" orient="auto" markerUnits="userSpaceOnUse">
            <path d="M0,0 L6,3 L0,6 z" fill={C_LBLUE} />
          </marker>
        </defs>
        <text x={593} y={27} textAnchor="middle" dominantBaseline="central" fontWeight="bold" fontSize={15} fill={TXT} fontFamily={FONT}>i-button SDAU</text>
        <text x={590} y={382} textAnchor="middle" dominantBaseline="central" fontWeight="bold" fontSize={15} fill={TXT} fontFamily={FONT}>LogTag SDAU</text>
        {ANN_SMALL.map((a, i) => a.lines.map((l, j) => (
          <text key={`a${i}-${j}`} x={a.x} y={a.ys[j]} textAnchor="middle" dominantBaseline="central" fontSize={13} fill="#222" fontFamily={FONT}>{l}</text>
        )))}
        <text x={398} y={47} textAnchor="middle" dominantBaseline="central" fontSize={18} fill="#111" fontFamily={FONT}>Shanghai</text>
        <text x={398} y={71} textAnchor="middle" dominantBaseline="central" fontSize={18} fill="#111" fontFamily={FONT}>customs clearance</text>
        {ANN_ROT.map((a, i) => (
          <text key={`r${i}`} transform={`translate(${a.x},${a.y}) rotate(-90)`} textAnchor="middle" dominantBaseline="central" fontSize={20} fill="#111" fontFamily={FONT}>{a.t}</text>
        ))}
        {ARROWS.map((a, i) => (
          <line key={`ar${i}`} x1={a.x1} y1={a.y1} x2={a.x2} y2={a.y2} stroke={C_LBLUE} strokeWidth={1.2} markerEnd="url(#arr)" />
        ))}
        {TOP_SERIES.map((s, i) => {
          const [lx, ly] = TOP_LEGEND_POS[i];
          return (
            <g key={`tl${i}`}>
              <line x1={lx} y1={ly} x2={lx + 27} y2={ly} stroke={s.color} strokeWidth={3} />
              <text x={lx + 29} y={ly} dominantBaseline="central" fontSize={9.5} letterSpacing={-0.2} fill={TXT} fontFamily={FONT}>{s.name}</text>
            </g>
          );
        })}
        {BOTTOM_SERIES.map((s, i) => {
          const [lx, ly] = BOTTOM_LEGEND_POS[i];
          return (
            <g key={`bl${i}`}>
              <line x1={lx} y1={ly} x2={lx + 27} y2={ly} stroke={s.color} strokeWidth={3} />
              <text x={lx + 29} y={ly} dominantBaseline="central" fontSize={9} letterSpacing={-0.3} fill={TXT} fontFamily={FONT}>{s.name}</text>
            </g>
          );
        })}
      </svg>
    </div>
  );
}
